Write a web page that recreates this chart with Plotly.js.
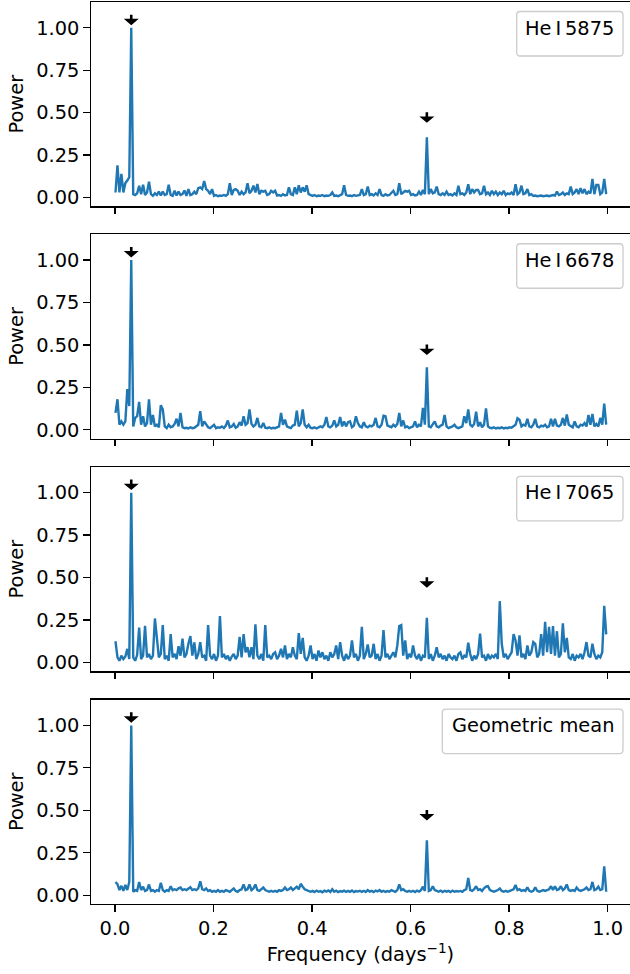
<!DOCTYPE html>
<html>
<head>
<meta charset="utf-8">
<script src="https://cdn.plot.ly/plotly-3.0.1.min.js"></script>
<style>
  html, body { margin: 0; padding: 0; background: #ffffff; }
  #chart { width: 630px; height: 974px; }
</style>
</head>
<body>
<div id="chart"></div>
<script>
// Periodogram frequency grid (days^-1)
const freqStart = 0.001;
const freqStep = 0.004;
const nFreq = 250;

// Normalised periodogram power, one value per grid frequency
const powerHeI5875 = [
  0.03,0.19,0.03,0.14,0.03,0.085,0.10,0.12,1.0,0.02,0.015,0.025,0.07,0.02,0.075,0.015,0.03,0.094,0.02,0.01,0.025,0.015,0.035,0.012,0.035,
  0.015,0.02,0.075,0.015,0.01,0.04,0.012,0.035,0.015,0.02,0.042,0.01,0.05,0.015,0.02,0.035,0.02,0.055,0.06,0.05,0.098,0.05,0.04,0.02,0.05,
  0.01,0.015,0.008,0.012,0.01,0.015,0.01,0.02,0.084,0.015,0.045,0.05,0.04,0.015,0.035,0.02,0.03,0.084,0.025,0.04,0.07,0.03,0.08,0.02,0.04,
  0.035,0.04,0.015,0.02,0.04,0.03,0.04,0.012,0.015,0.01,0.02,0.012,0.015,0.06,0.02,0.015,0.06,0.02,0.072,0.03,0.06,0.035,0.072,0.02,0.015,
  0.01,0.015,0.008,0.012,0.01,0.015,0.008,0.012,0.01,0.015,0.03,0.01,0.012,0.008,0.015,0.02,0.072,0.015,0.01,0.012,0.008,0.015,0.01,0.012,0.015,
  0.05,0.015,0.02,0.065,0.015,0.02,0.012,0.025,0.015,0.05,0.015,0.01,0.02,0.012,0.015,0.025,0.04,0.015,0.02,0.084,0.02,0.03,0.04,0.035,0.04,
  0.015,0.02,0.012,0.015,0.035,0.015,0.045,0.02,0.355,0.02,0.05,0.025,0.03,0.065,0.02,0.015,0.025,0.015,0.035,0.015,0.02,0.012,0.025,0.015,0.07,
  0.02,0.025,0.015,0.03,0.078,0.02,0.05,0.03,0.045,0.045,0.02,0.025,0.07,0.02,0.03,0.015,0.04,0.02,0.035,0.015,0.03,0.02,0.04,0.015,0.025,
  0.02,0.03,0.015,0.078,0.02,0.03,0.07,0.02,0.025,0.05,0.015,0.02,0.01,0.012,0.008,0.01,0.012,0.008,0.01,0.012,0.008,0.01,0.015,0.012,0.035,
  0.015,0.02,0.03,0.015,0.025,0.02,0.065,0.02,0.03,0.05,0.02,0.055,0.025,0.05,0.02,0.035,0.025,0.11,0.02,0.075,0.075,0.02,0.03,0.11,0.02
];

const powerHeI6678 = [
  0.10,0.18,0.03,0.05,0.03,0.05,0.24,0.14,1.0,0.02,0.07,0.08,0.165,0.03,0.08,0.02,0.04,0.18,0.03,0.087,0.02,0.03,0.015,0.145,0.12,
  0.02,0.01,0.03,0.015,0.02,0.035,0.065,0.02,0.10,0.015,0.01,0.012,0.008,0.015,0.01,0.012,0.02,0.03,0.11,0.02,0.05,0.03,0.015,0.01,0.02,
  0.03,0.01,0.015,0.012,0.02,0.01,0.025,0.055,0.015,0.02,0.035,0.012,0.02,0.045,0.025,0.08,0.03,0.04,0.12,0.035,0.02,0.03,0.07,0.02,0.015,
  0.04,0.012,0.01,0.015,0.008,0.012,0.01,0.015,0.02,0.10,0.03,0.06,0.02,0.015,0.01,0.025,0.03,0.113,0.02,0.04,0.12,0.03,0.015,0.03,0.012,
  0.01,0.015,0.008,0.012,0.02,0.015,0.03,0.075,0.02,0.015,0.025,0.055,0.02,0.03,0.075,0.02,0.05,0.02,0.045,0.05,0.015,0.025,0.08,0.04,0.02,
  0.015,0.045,0.02,0.015,0.025,0.02,0.03,0.07,0.02,0.015,0.03,0.083,0.08,0.025,0.02,0.015,0.03,0.02,0.035,0.10,0.02,0.055,0.015,0.02,0.01,
  0.015,0.02,0.05,0.015,0.03,0.02,0.13,0.03,0.368,0.02,0.015,0.03,0.05,0.02,0.015,0.025,0.03,0.087,0.02,0.01,0.015,0.02,0.03,0.015,0.01,
  0.015,0.02,0.08,0.04,0.12,0.03,0.02,0.035,0.107,0.02,0.045,0.015,0.03,0.127,0.02,0.012,0.01,0.015,0.008,0.012,0.01,0.015,0.008,0.012,0.01,
  0.015,0.012,0.02,0.03,0.068,0.06,0.02,0.03,0.025,0.065,0.02,0.015,0.03,0.065,0.02,0.015,0.025,0.02,0.03,0.015,0.02,0.065,0.02,0.065,0.025,
  0.02,0.03,0.07,0.025,0.09,0.03,0.02,0.015,0.05,0.02,0.015,0.03,0.025,0.04,0.02,0.087,0.03,0.093,0.02,0.035,0.02,0.07,0.03,0.154,0.03
];

const powerHeI7065 = [
  0.125,0.03,0.01,0.04,0.02,0.035,0.08,0.02,1.0,0.03,0.01,0.045,0.206,0.02,0.04,0.216,0.03,0.05,0.02,0.04,0.259,0.127,0.03,0.05,0.22,
  0.02,0.04,0.01,0.167,0.03,0.05,0.02,0.096,0.04,0.141,0.03,0.05,0.11,0.155,0.04,0.118,0.02,0.05,0.12,0.03,0.04,0.01,0.22,0.04,0.02,
  0.05,0.01,0.04,0.273,0.03,0.05,0.02,0.04,0.01,0.035,0.05,0.02,0.04,0.151,0.03,0.167,0.06,0.09,0.03,0.09,0.02,0.225,0.04,0.02,0.05,
  0.01,0.22,0.03,0.04,0.02,0.05,0.06,0.02,0.04,0.08,0.03,0.10,0.02,0.05,0.03,0.09,0.04,0.02,0.173,0.05,0.145,0.03,0.01,0.04,0.10,
  0.02,0.05,0.01,0.07,0.03,0.06,0.02,0.04,0.01,0.06,0.03,0.05,0.10,0.02,0.12,0.04,0.01,0.05,0.02,0.04,0.13,0.03,0.05,0.01,0.04,
  0.21,0.02,0.05,0.106,0.03,0.04,0.11,0.02,0.05,0.01,0.04,0.19,0.03,0.05,0.02,0.04,0.06,0.03,0.10,0.214,0.22,0.04,0.13,0.02,0.05,
  0.03,0.10,0.04,0.02,0.05,0.01,0.04,0.03,0.263,0.02,0.05,0.01,0.04,0.09,0.03,0.05,0.02,0.04,0.01,0.05,0.03,0.02,0.04,0.01,0.05,
  0.06,0.02,0.04,0.03,0.116,0.05,0.01,0.04,0.02,0.05,0.17,0.03,0.04,0.01,0.05,0.02,0.04,0.03,0.05,0.02,0.361,0.11,0.03,0.05,0.02,
  0.04,0.06,0.167,0.13,0.04,0.16,0.03,0.05,0.02,0.10,0.04,0.06,0.12,0.11,0.03,0.05,0.167,0.04,0.24,0.06,0.21,0.05,0.214,0.04,0.184,
  0.03,0.05,0.231,0.06,0.145,0.03,0.02,0.05,0.01,0.04,0.03,0.05,0.02,0.06,0.12,0.04,0.03,0.11,0.05,0.02,0.04,0.03,0.06,0.333,0.165
];

const powerGeoMean = [
  0.078,0.065,0.03,0.055,0.025,0.06,0.03,0.078,1.0,0.02,0.03,0.025,0.078,0.03,0.05,0.025,0.03,0.063,0.025,0.03,0.02,0.03,0.025,0.073,0.03,
  0.02,0.03,0.025,0.053,0.03,0.035,0.03,0.04,0.045,0.03,0.035,0.03,0.04,0.047,0.03,0.035,0.03,0.04,0.082,0.035,0.03,0.04,0.025,0.03,0.02,
  0.025,0.02,0.03,0.02,0.025,0.02,0.03,0.025,0.02,0.03,0.04,0.025,0.02,0.03,0.035,0.063,0.03,0.035,0.063,0.03,0.04,0.063,0.03,0.025,0.035,
  0.045,0.03,0.025,0.02,0.025,0.02,0.025,0.02,0.03,0.025,0.03,0.045,0.03,0.035,0.045,0.03,0.04,0.05,0.035,0.067,0.05,0.035,0.03,0.025,0.02,
  0.025,0.018,0.027,0.02,0.024,0.017,0.026,0.021,0.028,0.019,0.035,0.02,0.026,0.018,0.024,0.021,0.027,0.019,0.025,0.02,0.028,0.018,0.024,0.021,0.026,
  0.02,0.026,0.019,0.03,0.021,0.025,0.018,0.027,0.022,0.03,0.02,0.026,0.019,0.024,0.021,0.03,0.025,0.02,0.03,0.063,0.03,0.035,0.025,0.02,0.025,
  0.02,0.026,0.019,0.027,0.021,0.03,0.05,0.025,0.3235,0.025,0.03,0.053,0.03,0.025,0.02,0.027,0.019,0.026,0.021,0.025,0.018,0.027,0.02,0.024,0.021,
  0.025,0.02,0.03,0.035,0.102,0.03,0.025,0.035,0.053,0.03,0.035,0.025,0.04,0.05,0.053,0.03,0.025,0.02,0.025,0.03,0.04,0.025,0.02,0.025,0.02,
  0.025,0.03,0.035,0.06,0.03,0.035,0.025,0.03,0.025,0.047,0.025,0.02,0.025,0.047,0.025,0.02,0.025,0.03,0.025,0.03,0.035,0.053,0.03,0.053,0.03,
  0.035,0.053,0.03,0.04,0.063,0.03,0.025,0.03,0.025,0.045,0.03,0.025,0.03,0.035,0.045,0.03,0.035,0.078,0.03,0.035,0.05,0.03,0.035,0.17,0.02
];

// Panel labels, top to bottom
const panelLabels = ['He\u2009I\u20095875', 'He\u2009I\u20096678', 'He\u2009I\u20097065', 'Geometric mean'];

// Marked frequencies and the heights of their arrow markers
const markFreq = [0.033, 0.633];
const markLevel = [1.045, 0.47];

// Axis ticks
const xTickVals = [0.0, 0.2, 0.4, 0.6, 0.8, 1.0];
const xTickText = ['0.0', '0.2', '0.4', '0.6', '0.8', '1.0'];
const yTickVals = [0.0, 0.25, 0.5, 0.75, 1.0];
const yTickText = ['0.00', '0.25', '0.50', '0.75', '1.00'];

// ---------------------------------------------------------------------------
const FONT = 'DejaVu Sans, sans-serif';
const BLUE = '#1f77b4';
const TEXT_SIZE = 19.4;

const freq = [];
for (let i = 0; i < nFreq; i++) freq.push(+(freqStart + i * freqStep).toFixed(4));

const series = [powerHeI5875, powerHeI6678, powerHeI7065, powerGeoMean];
const domains = [[0.7734, 1.0], [0.5159, 0.7425], [0.2580, 0.4846], [0.0, 0.2266]];
const suffix = k => (k === 0 ? '' : String(k + 1));

const traces = series.map((p, k) => ({
  type: 'scatter',
  mode: 'lines',
  x: freq,
  y: p,
  xaxis: 'x' + suffix(k),
  yaxis: 'y' + suffix(k),
  line: { color: BLUE, width: 2.4 },
  hoverinfo: 'skip',
  showlegend: false
}));

// Down-arrow glyph (pixels, y up, centred on the anchor)
const arrowPath = 'M-1.3,5.5 L1.3,5.5 L1.3,1.4 L7.5,1.4 L0,-5 L-7.5,1.4 L-1.3,1.4 Z';

function roundedBox(x0, x1, y0, y1, r) {
  // y0 = top, y1 = bottom (pixels, y up)
  return 'M' + (x0 + r) + ',' + y0 + ' L' + (x1 - r) + ',' + y0 +
    ' Q' + x1 + ',' + y0 + ' ' + x1 + ',' + (y0 - r) +
    ' L' + x1 + ',' + (y1 + r) +
    ' Q' + x1 + ',' + y1 + ' ' + (x1 - r) + ',' + y1 +
    ' L' + (x0 + r) + ',' + y1 +
    ' Q' + x0 + ',' + y1 + ' ' + x0 + ',' + (y1 + r) +
    ' L' + x0 + ',' + (y0 - r) +
    ' Q' + x0 + ',' + y0 + ' ' + (x0 + r) + ',' + y0 + ' Z';
}

const shapes = [];
const annotations = [];
const layout = {
  width: 630,
  height: 974,
  margin: { l: 91, r: 0, t: 2, b: 69.5 },
  paper_bgcolor: '#ffffff',
  plot_bgcolor: '#ffffff',
  font: { family: FONT, size: TEXT_SIZE, color: '#000000' },
  showlegend: false
};

series.forEach((p, k) => {
  const s = suffix(k);
  const last = k === series.length - 1;
  const xa = {
    anchor: 'y' + s,
    domain: [0, 1],
    range: [-0.0487, 1.0453],
    tickmode: 'array',
    tickvals: xTickVals,
    ticktext: xTickText,
    showticklabels: last,
    ticks: 'outside',
    ticklen: 6.5,
    tickwidth: 1.3,
    tickcolor: '#000000',
    ticklabelstandoff: 2.5,
    showline: true,
    mirror: true,
    linecolor: '#000000',
    linewidth: 1.3,
    showgrid: false,
    zeroline: false,
    fixedrange: true,
    tickfont: { family: FONT, size: TEXT_SIZE, color: '#000000' }
  };
  if (last) {
    xa.title = {
      text: 'Frequency (days<sup>\u22121</sup>)',
      font: { family: FONT, size: TEXT_SIZE, color: '#000000' },
      standoff: 7
    };
  }
  layout['xaxis' + s] = xa;

  layout['yaxis' + s] = {
    anchor: 'x' + s,
    domain: domains[k],
    range: [-0.052, 1.152],
    tickmode: 'array',
    tickvals: yTickVals,
    ticktext: yTickText,
    ticks: 'outside',
    ticklen: 6.5,
    tickwidth: 1.3,
    tickcolor: '#000000',
    ticklabelstandoff: 1.5,
    showline: true,
    mirror: true,
    linecolor: '#000000',
    linewidth: 1.3,
    showgrid: false,
    zeroline: false,
    fixedrange: true,
    tickfont: { family: FONT, size: TEXT_SIZE, color: '#000000' },
    title: {
      text: 'Power',
      font: { family: FONT, size: TEXT_SIZE, color: '#000000' },
      standoff: 7
    }
  };

  // arrow markers at the detected frequencies
  markFreq.forEach((f, j) => {
    shapes.push({
      type: 'path',
      xref: 'x' + s, yref: 'y' + s,
      xsizemode: 'pixel', ysizemode: 'pixel',
      xanchor: f, yanchor: markLevel[j],
      path: arrowPath,
      fillcolor: '#000000',
      line: { width: 0 },
      layer: 'above'
    });
  });

  // legend box in the upper-right corner
  const wide = panelLabels[k].length > 10;
  const bx0 = wide ? -187.7 : -113.3;
  shapes.push({
    type: 'path',
    xref: 'x' + s + ' domain', yref: 'y' + s + ' domain',
    xsizemode: 'pixel', ysizemode: 'pixel',
    xanchor: 1, yanchor: 1,
    path: roundedBox(bx0, -7, -9.5, -54, 3.5),
    fillcolor: 'rgba(255,255,255,0.8)',
    line: { color: '#cccccc', width: 1.3 },
    layer: 'above'
  });
  annotations.push({
    xref: 'x' + s + ' domain', yref: 'y' + s + ' domain',
    x: 1, y: 1,
    xshift: (bx0 - 7) / 2, yshift: -26,
    xanchor: 'center', yanchor: 'middle',
    showarrow: false,
    text: panelLabels[k],
    font: { family: FONT, size: TEXT_SIZE, color: '#000000' }
  });
});

layout.shapes = shapes;
layout.annotations = annotations;

Plotly.newPlot('chart', traces, layout, { displayModeBar: false, staticPlot: true });
</script>
</body>
</html>
